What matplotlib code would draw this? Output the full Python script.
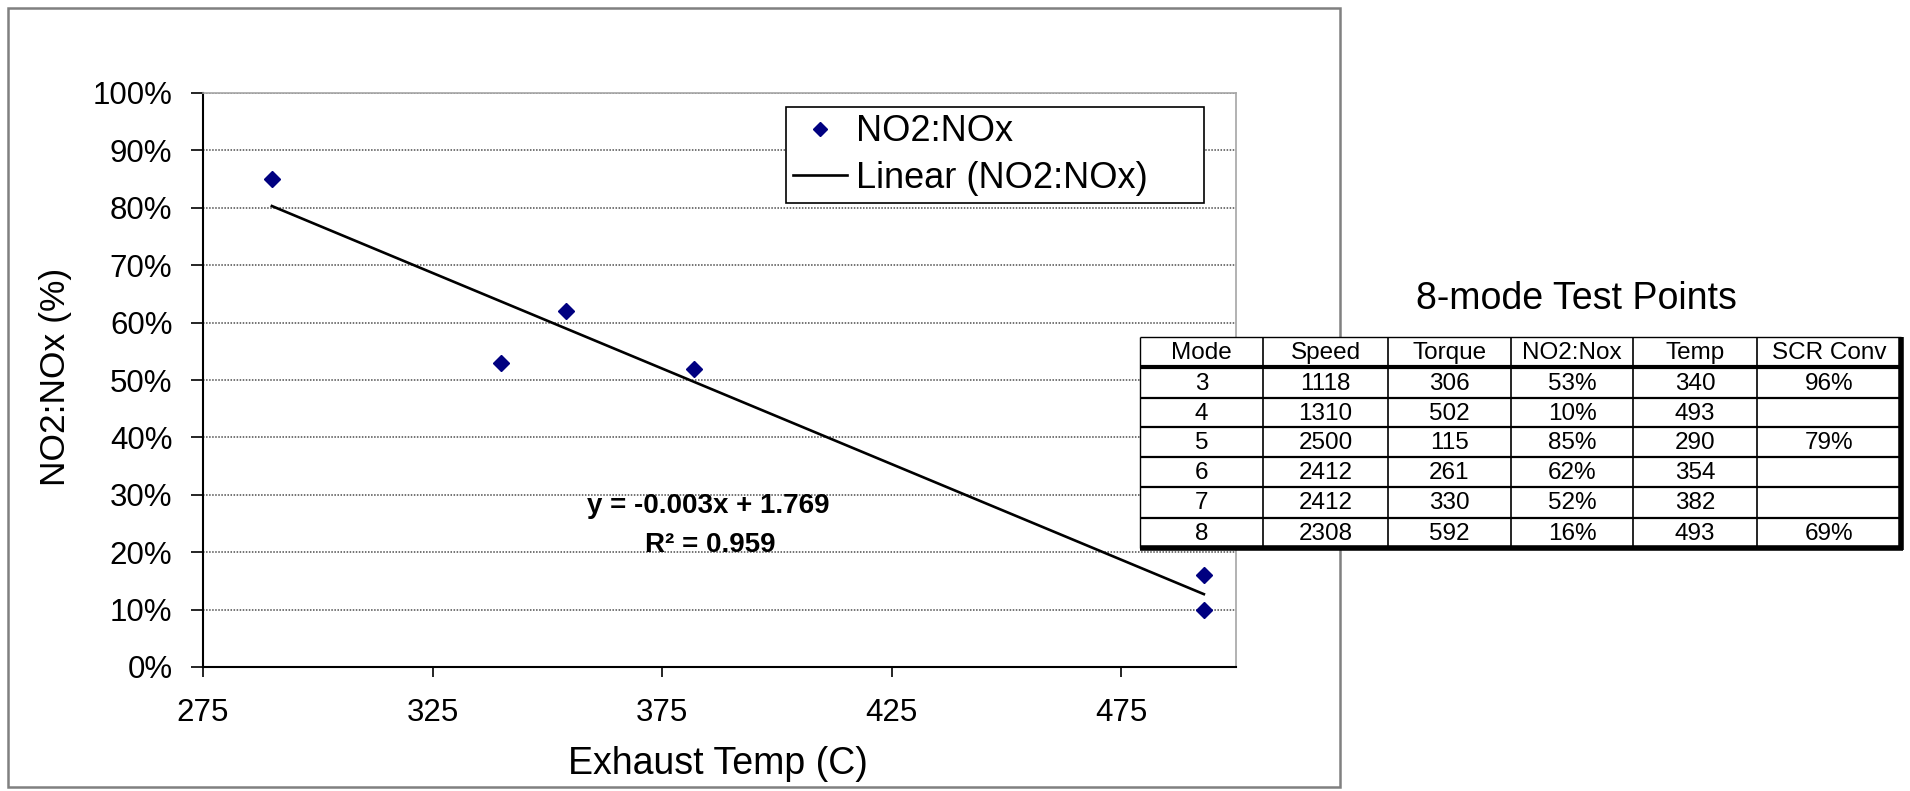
import numpy as np
import matplotlib

matplotlib.use("Agg")
import matplotlib.pyplot as plt
from matplotlib.lines import Line2D
from matplotlib.patches import Rectangle


W, H = 1910, 791
DPI = 100

FONT = "Liberation Sans"
NAVY = "#000080"
GRID = "#4d4d4d"
FRAME = "#808080"
PLOT_EDGE = "#a6a6a6"

# 8-mode test points
modes = ["3", "4", "5", "6", "7", "8"]
speed = [1118, 1310, 2500, 2412, 2412, 2308]
torque = [306, 502, 115, 261, 330, 592]
no2_nox = [0.53, 0.10, 0.85, 0.62, 0.52, 0.16]
exhaust_temp = [340, 493, 290, 354, 382, 493]
scr_conv = [0.96, None, 0.79, None, None, 0.69]

table_columns = ["Mode", "Speed", "Torque", "NO2:Nox", "Temp", "SCR Conv"]
x_ticks = [275, 325, 375, 425, 475]
y_ticks = [0.0, 0.1, 0.2, 0.3, 0.4, 0.5, 0.6, 0.7, 0.8, 0.9, 1.0]


def fig_box(left, top, right, bottom):
    # pixel box (top-left origin) -> figure fraction rect
    return [left / W, 1 - bottom / H, (right - left) / W, (bottom - top) / H]


def pct(value):
    return "" if value is None else f"{round(value * 100)}%"


plt.rcParams["font.family"] = [FONT, "DejaVu Sans"]

fig = plt.figure(figsize=(W / DPI, H / DPI), dpi=DPI)
fig.patch.set_facecolor("white")

# ---- scatter chart ----
ax = fig.add_axes(fig_box(203, 93, 1236, 667))
ax.set_xlim(275, 500)
ax.set_ylim(0, 1)

ax.plot(exhaust_temp, no2_nox, linestyle="none", marker="D", markersize=8.2,
        color=NAVY, zorder=4)

coef = np.polyfit(exhaust_temp, no2_nox, 1)
r2 = np.corrcoef(exhaust_temp, no2_nox)[0, 1] ** 2
trend_x = np.array([min(exhaust_temp), max(exhaust_temp)])
ax.plot(trend_x, np.polyval(coef, trend_x), color="black", linewidth=1.9, zorder=3)

ax.text(385, 0.268, f"y = {coef[0]:.3f}x + {coef[1]:.3f}", ha="center",
        va="baseline", fontsize=20, fontweight="bold")
ax.text(385.4, 0.2, f"R² = {r2:.3f}", ha="center", va="baseline",
        fontsize=20, fontweight="bold")

ax.set_xticks(x_ticks)
ax.set_xticklabels([str(v) for v in x_ticks])
ax.set_yticks(y_ticks)
ax.set_yticklabels([f"{round(v * 100)}%" for v in y_ticks])
ax.yaxis.grid(True, linestyle=(0, (1, 1)), color=GRID, linewidth=1.1)
ax.set_axisbelow(True)
ax.tick_params(axis="y", direction="out", length=9, width=1.2, pad=13,
               labelsize=22.5, colors="black")
ax.tick_params(axis="x", direction="out", length=7, width=1.2, pad=15,
               labelsize=22.5, colors="black")

for side in ("left", "bottom"):
    ax.spines[side].set_color("black")
    ax.spines[side].set_linewidth(1.5)
for side in ("top", "right"):
    ax.spines[side].set_color(PLOT_EDGE)
    ax.spines[side].set_linewidth(1.2)

fig.text(718 / W, 1 - 774 / H, "Exhaust Temp (C)", ha="center", va="baseline",
         fontsize=27)
fig.text(65 / W, 1 - 377 / H, "NO2:NOx (%)", ha="center", va="baseline",
         rotation=90, rotation_mode="anchor", fontsize=25.5)

handles = [
    Line2D([], [], linestyle="none", marker="D", markersize=7.2, color=NAVY),
    Line2D([], [], color="black", linewidth=1.9),
]
leg = ax.legend(
    handles,
    ["NO2:NOx", "Linear (NO2:NOx)"],
    loc="upper left",
    bbox_to_anchor=(786 / W, 1 - 202 / H, 418 / W, 95 / H),
    bbox_transform=fig.transFigure,
    mode="expand",
    borderaxespad=0,
    borderpad=0.2,
    labelspacing=0.33,
    handlelength=1.5,
    handletextpad=0.25,
    numpoints=1,
    fancybox=False,
    framealpha=1,
    edgecolor="black",
    prop={"family": [FONT, "DejaVu Sans"], "size": 26},
)
leg.get_frame().set_linewidth(1.2)
leg.set_zorder(6)

# outer chart frame
fig.patches.append(Rectangle((8 / W, 1 - 787 / H), (1340 - 8) / W, (787 - 8) / H,
                             transform=fig.transFigure, fill=False,
                             edgecolor=FRAME, linewidth=1.8))

# ---- table of test points ----
fig.text(1576 / W, 1 - 309 / H, "8-mode Test Points", ha="center",
         va="baseline", fontsize=27)

col_edges = [0, 124, 249, 373, 496, 620, 765]
row_edges = [0, 31, 62, 92, 122, 153, 184, 215]
tax = fig.add_axes(fig_box(1139, 336, 1904, 551), zorder=5)
tax.set_xlim(-1, 768)
tax.set_ylim(218, -1)
tax.axis("off")
tax.add_patch(Rectangle((0, 0), col_edges[-1], row_edges[-1], facecolor="white",
                        edgecolor="none", zorder=0))

rows = [table_columns]
for i in range(len(modes)):
    rows.append([modes[i], str(speed[i]), str(torque[i]), pct(no2_nox[i]),
                 str(exhaust_temp[i]), pct(scr_conv[i])])

for r, row in enumerate(rows):
    yc = (row_edges[r] + row_edges[r + 1]) / 2
    for c, cell in enumerate(row):
        xc = (col_edges[c] + col_edges[c + 1]) / 2
        tax.text(xc, yc + 1, cell, ha="center", va="center", fontsize=17.5)

# grid lines
tax.hlines(row_edges[0], 0, col_edges[-1], color="black", linewidth=1.0)
tax.hlines(row_edges[1], 0, col_edges[-1], color="black", linewidth=3.0)
tax.hlines(row_edges[2:-1], 0, col_edges[-1], color="black", linewidth=1.6)
tax.hlines(row_edges[-1], 0, col_edges[-1] + 2, color="black", linewidth=4.0)
tax.vlines(col_edges[0], 0, row_edges[-1], color="black", linewidth=1.0)
tax.vlines(col_edges[1:-1], 0, row_edges[-1], color="black", linewidth=1.2)
tax.vlines(col_edges[-1], 0, row_edges[-1] + 2, color="black", linewidth=4.0)

fig.savefig("out.png", dpi=DPI, facecolor="white")
